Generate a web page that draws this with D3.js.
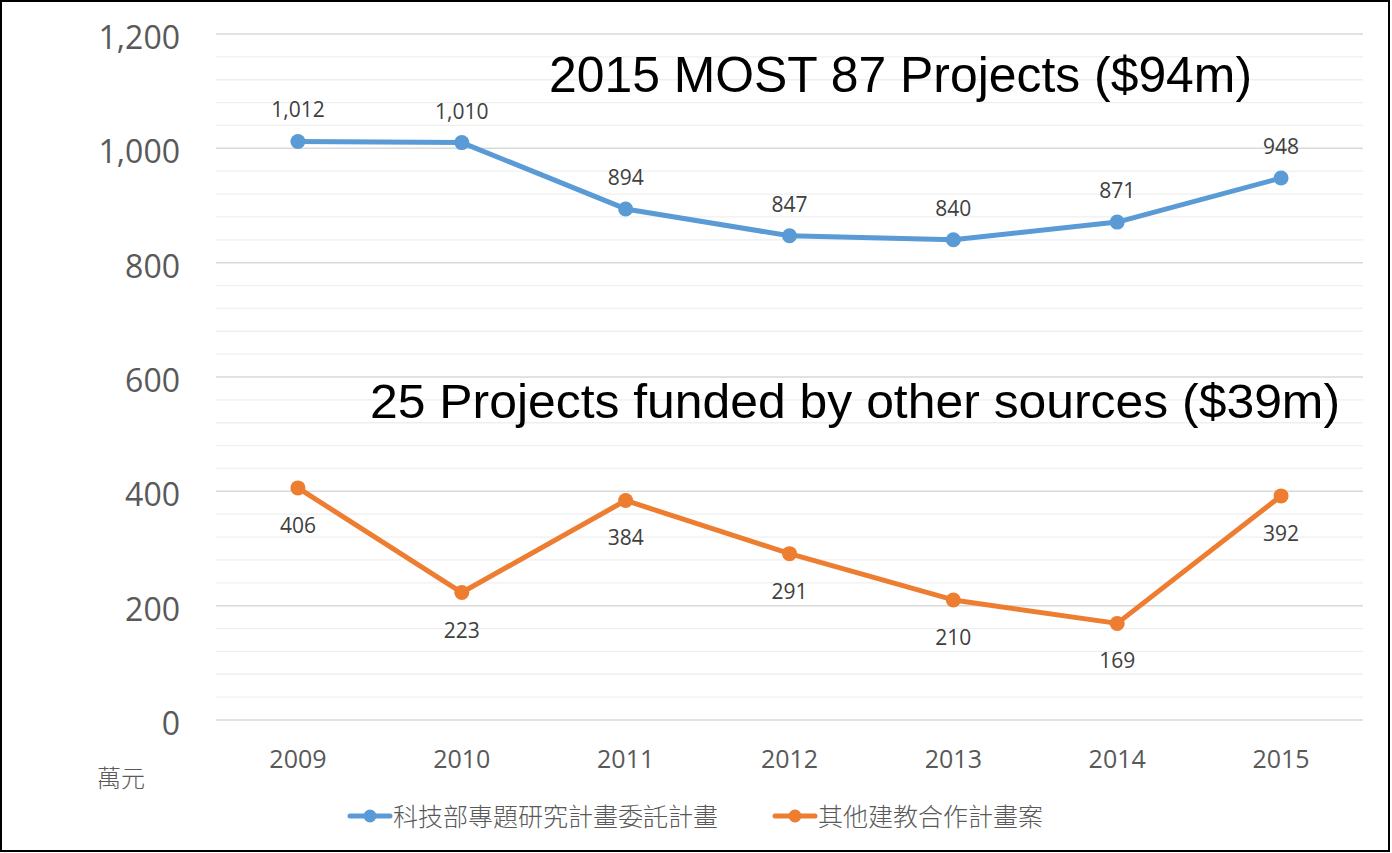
<!DOCTYPE html>
<html><head><meta charset="utf-8">
<script src="https://cdn.jsdelivr.net/npm/d3@7"></script>
<style>html,body{margin:0;padding:0;background:#fff;}svg{display:block;}</style>
</head><body>
<svg id="c" width="1392" height="853"></svg>
<script>
const years = ["2009","2010","2011","2012","2013","2014","2015"];
const mostValues = [1012, 1010, 894, 847, 840, 871, 948];
const otherValues = [406, 223, 384, 291, 210, 169, 392];
const yTicks = [0, 200, 400, 600, 800, 1000, 1200];
const seriesNames = ["科技部專題研究計畫委託計畫", "其他建教合作計畫案"];
const annotations = ["2015 MOST 87 Projects ($94m)", "25 Projects funded by other sources ($39m)"];
const unitLabel = "萬元";

const svg = d3.select("#c");
svg.append("rect").attr("x",1).attr("y",1).attr("width",1388).attr("height",850)
  .attr("fill","#fff").attr("stroke","#000").attr("stroke-width",2);

const x = d3.scaleBand().domain(years).range([216,1363]);
const y = d3.scaleLinear().domain([0,1200]).range([720,34]);
const cx = d => x(d) + x.bandwidth()/2;

// minor gridlines
const minor = d3.range(0,1201,40).filter(v => v % 200 !== 0);
svg.append("g").selectAll("line").data(minor).join("line")
  .attr("x1",216).attr("x2",1363).attr("y1",d=>y(d)).attr("y2",d=>y(d))
  .attr("stroke","#efefef").attr("stroke-width",1.3);
// major gridlines
svg.append("g").selectAll("line").data(yTicks).join("line")
  .attr("x1",216).attr("x2",1363).attr("y1",d=>y(d)).attr("y2",d=>y(d))
  .attr("stroke","#d9d9d9").attr("stroke-width",1.5);

// y axis labels
const fmt = d3.format(",");
const yAxis = d3.axisLeft(y).tickValues(yTicks).tickFormat(fmt).tickSize(0).tickPadding(0);
const gy = svg.append("g").attr("transform","translate(180,0)").call(yAxis);
gy.select(".domain").remove();
gy.selectAll("text").attr("font-family","'Open Sans', 'Noto Sans', sans-serif").attr("font-size",32).attr("fill","#595959").attr("dy","0.45em");

// x axis labels
const xAxis = d3.axisBottom(x).tickSize(0).tickPadding(0);
const gx = svg.append("g").attr("transform","translate(0,768)").call(xAxis);
gx.select(".domain").remove();
gx.selectAll("text").attr("font-family","'Open Sans', 'Noto Sans', sans-serif").attr("font-size",25).attr("fill","#595959").attr("dy","0");

// unit label
svg.append("text").attr("x",121).attr("y",787).attr("text-anchor","middle")
  .attr("font-family","'Noto Sans CJK TC', sans-serif").attr("font-weight",300).attr("font-size",24).attr("fill","#595959").text(unitLabel);

const line = d3.line().x((d,i)=>cx(years[i])).y(d=>y(d));
const series = [
  {vals: mostValues, color:"#5B9BD5", dy:-24},
  {vals: otherValues, color:"#ED7D31", dy:45}
];
series.forEach(s => {
  svg.append("path").attr("d", line(s.vals)).attr("fill","none")
    .attr("stroke", s.color).attr("stroke-width",5).attr("stroke-linejoin","round");
  svg.append("g").selectAll("circle").data(s.vals).join("circle")
    .attr("cx",(d,i)=>cx(years[i])).attr("cy",d=>y(d)).attr("r",7.5).attr("fill",s.color);
  svg.append("g").selectAll("text").data(s.vals).join("text")
    .attr("x",(d,i)=>cx(years[i])).attr("y",d=>y(d)+s.dy).attr("text-anchor","middle")
    .attr("font-family","'Open Sans', 'Noto Sans', sans-serif").attr("font-size",21).attr("fill","#404040")
    .text(d=>fmt(d));
});

// annotations
svg.append("text").attr("x",549).attr("y",92).attr("font-family","'Liberation Sans', Arial, sans-serif")
  .attr("font-size",50).attr("fill","#000").attr("textLength",703).attr("lengthAdjust","spacingAndGlyphs").text(annotations[0]);
svg.append("text").attr("x",370).attr("y",418).attr("font-family","'Liberation Sans', Arial, sans-serif")
  .attr("font-size",49).attr("fill","#000").attr("textLength",970).attr("lengthAdjust","spacingAndGlyphs").text(annotations[1]);

// legend
const legendItems = [
  {name: seriesNames[0], color:"#5B9BD5", x:350},
  {name: seriesNames[1], color:"#ED7D31", x:775}
];
legendItems.forEach(l => {
  svg.append("line").attr("x1",l.x).attr("x2",l.x+40).attr("y1",816).attr("y2",816)
    .attr("stroke",l.color).attr("stroke-width",5).attr("stroke-linecap","round");
  svg.append("circle").attr("cx",l.x+20).attr("cy",816).attr("r",6.5).attr("fill",l.color);
  svg.append("text").attr("x",l.x+43).attr("y",826)
    .attr("font-family","'Noto Sans CJK TC', sans-serif").attr("font-weight",300).attr("font-size",25).attr("fill","#595959")
    .text(l.name);
});
</script>
</body></html>
